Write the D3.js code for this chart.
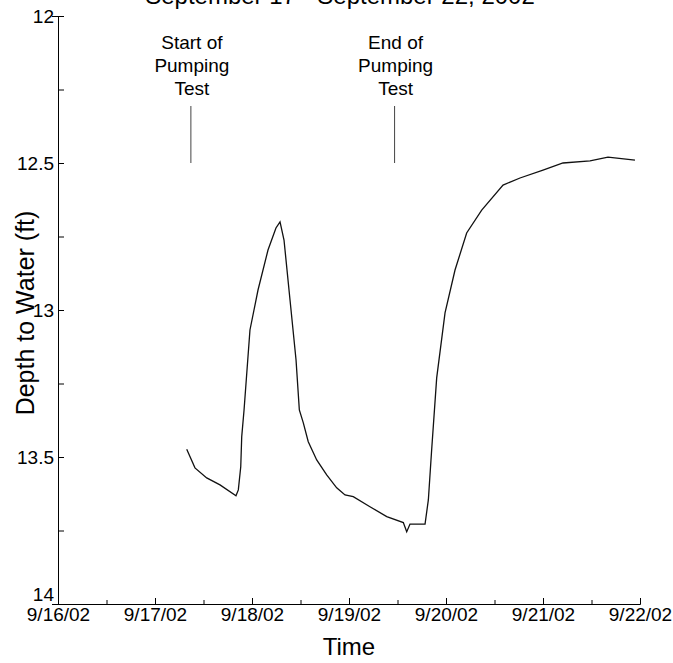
<!DOCTYPE html>
<html><head><meta charset="utf-8">
<script src="https://cdn.jsdelivr.net/npm/d3@7"></script>
<style>body{margin:0;background:#fff}text{font-family:Arial,"Liberation Sans",sans-serif}</style>
</head><body><svg id="c" width="673" height="663"></svg>
<script>
const days = [0,1,2,3,4,5,6];
const dayLabels = ["9/16/02","9/17/02","9/18/02","9/19/02","9/20/02","9/21/02","9/22/02"];
const yTicks = [12,12.5,13,13.5,14];
const times = [1.327,1.412,1.533,1.670,1.835,1.859,1.884,1.894,1.918,1.979,2.062,2.165,2.247,2.289,2.330,2.392,2.454,2.488,2.529,2.580,2.667,2.770,2.873,2.959,3.044,3.216,3.389,3.560,3.595,3.629,3.784,3.818,3.852,3.904,3.990,4.093,4.213,4.368,4.588,4.763,5.0,5.206,5.485,5.67,5.948];
const depths = [13.474,13.537,13.571,13.595,13.632,13.612,13.533,13.431,13.34,13.068,12.932,12.796,12.721,12.70,12.762,12.966,13.17,13.34,13.384,13.448,13.51,13.561,13.605,13.629,13.635,13.669,13.703,13.723,13.754,13.728,13.728,13.646,13.476,13.231,13.01,12.864,12.738,12.66,12.575,12.551,12.524,12.50,12.493,12.48,12.49];
const markTimes = [1.37,3.47];
const markLabels = [["Start of","Pumping","Test"],["End of","Pumping","Test"]];

const svg = d3.select("#c");
const x = d3.scaleLinear().domain([0,6]).range([58,640]);
const y = d3.scaleLinear().domain([12,14]).range([16,604]);

const xAxis = svg.append("g").attr("transform","translate(0,604)")
  .call(d3.axisBottom(x).tickValues(d3.range(0,6.01,0.5)).tickSize(-6).tickFormat(d=>Number.isInteger(d)?dayLabels[d]:""));
xAxis.selectAll(".tick line").attr("y2",d=>Number.isInteger(d)?-6:-4);
xAxis.selectAll("text").attr("dy","0.71em").attr("y",4).style("font-size","19px");
const yAxis = svg.append("g").attr("transform","translate(58,0)")
  .call(d3.axisLeft(y).tickValues(d3.range(12,14.01,0.25)).tickSize(6).tickFormat(d=>yTicks.includes(d)?String(d):""));
yAxis.selectAll(".tick line").attr("x2",6).attr("x1",0);
yAxis.selectAll("text").attr("x",-4).attr("dy",d=>d===14?"-0.2em":"0.32em").style("font-size","19px");
svg.selectAll(".domain").attr("stroke","#000");
svg.selectAll(".tick text").attr("fill","#000");

const pts = times.map((t,i)=>[t,depths[i]]);
svg.append("path").datum(pts).attr("fill","none").attr("stroke","#111").attr("stroke-width",1.3)
  .attr("d",d3.line().x(d=>x(d[0])).y(d=>y(d[1])));

markTimes.forEach((t,i)=>{
  svg.append("line").attr("x1",x(t)).attr("x2",x(t)).attr("y1",106).attr("y2",y(12.5)).attr("stroke","#444");
  markLabels[i].forEach((s,j)=>svg.append("text").attr("x",x(t)+1).attr("y",49+j*23).attr("text-anchor","middle").style("font-size","19px").text(s));
});

svg.append("text").attr("x",340).attr("y",4).attr("text-anchor","middle").style("font-size","24px").text("September 17 - September 22, 2002");
svg.append("text").attr("transform","translate(34,313) rotate(-90)").attr("text-anchor","middle").style("font-size","25px").text("Depth to Water (ft)");
svg.append("text").attr("x",349).attr("y",655).attr("text-anchor","middle").style("font-size","24px").text("Time");
</script></body></html>
